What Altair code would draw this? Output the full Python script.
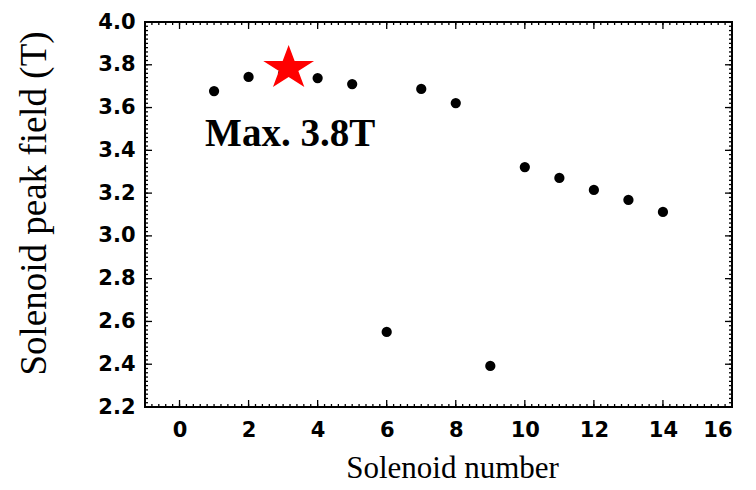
import altair as alt
import pandas as pd

# ---- data ----
solenoid = [1, 2, 3, 4, 5, 6, 7, 8, 9, 10, 11, 12, 13, 14]
peak_field = [3.677, 3.743, 3.760, 3.738, 3.710, 2.551, 3.687, 3.621,
              2.392, 3.322, 3.271, 3.215, 3.168, 3.112]

star_x = [3.16]
star_y = [3.784]

label_text = ["Max. 3.8T"]
label_x = [0.74]
label_y = [3.42]

x_tick_labels = [0, 2, 4, 6, 8, 10, 12, 14, 16]
y_tick_labels = [2.2, 2.4, 2.6, 2.8, 3.0, 3.2, 3.4, 3.6, 3.8, 4.0]

# minor tick positions (decoration)
x_minor = [round(-1 + 0.2 * i, 2) for i in range(86)]
y_minor = [round(2.2 + 0.02 * i, 3) for i in range(91)]

W, H = 587, 385

xs = alt.Scale(domain=[-1, 16], nice=False, zero=False)
ys = alt.Scale(domain=[2.2, 4.0], nice=False, zero=False)

ax_x = alt.Axis(
    values=x_tick_labels, format="d", title="Solenoid number",
    titleX=307, titleY=70, titleAlign="center", titleBaseline="alphabetic",
    titleFontSize=31, labelPadding=12)
ax_y = alt.Axis(
    values=y_tick_labels, format=".1f", title="Solenoid peak field (T)",
    titleX=-100, titleY=181, titleAngle=-90, titleAlign="center",
    titleBaseline="alphabetic", titleFontSize=37, labelPadding=10)

pts = pd.DataFrame({"n": solenoid, "f": peak_field})

points = alt.Chart(pts).mark_circle(size=105, color="black", opacity=1).encode(
    x=alt.X("n:Q", scale=xs, axis=ax_x),
    y=alt.Y("f:Q", scale=ys, axis=ax_y),
)

star_path = ("M0,-0.87 L0.2245,-0.269 L0.951,-0.269 L0.363,0.103 "
             "L0.588,0.704 L0,0.332 L-0.588,0.704 L-0.363,0.103 "
             "L-0.951,-0.269 L-0.2245,-0.269 Z")

star = alt.Chart(pd.DataFrame({"n": star_x, "f": star_y})).mark_point(
    shape=star_path, filled=True, fill="#ff0000", color="#ff0000",
    size=2850, opacity=1, strokeWidth=0
).encode(
    x=alt.X("n:Q", scale=xs, axis=ax_x),
    y=alt.Y("f:Q", scale=ys, axis=ax_y),
)

label = alt.Chart(pd.DataFrame({"n": label_x, "f": label_y, "t": label_text})).mark_text(
    font="Liberation Serif", fontWeight="bold", fontSize=39, align="left",
    baseline="alphabetic", color="black"
).encode(
    x=alt.X("n:Q", scale=xs, axis=ax_x),
    y=alt.Y("f:Q", scale=ys, axis=ax_y),
    text="t:N",
)

def xticks(vals, y0, y1):
    return alt.Chart(pd.DataFrame({"n": vals})).mark_rule(
        color="black", strokeWidth=1.3).encode(
        x=alt.X("n:Q", scale=xs, axis=ax_x),
        y=alt.value(y0), y2=alt.value(y1))

def yticks(vals, x0, x1):
    return alt.Chart(pd.DataFrame({"f": vals})).mark_rule(
        color="black", strokeWidth=1.3).encode(
        y=alt.Y("f:Q", scale=ys, axis=ax_y),
        x=alt.value(x0), x2=alt.value(x1))

layers = [
    xticks(x_minor, H, H - 3), xticks(x_tick_labels, H, H - 7),
    xticks(x_minor, 0, 3), xticks(x_tick_labels, 0, 7),
    yticks(y_minor, 0, 3), yticks(y_tick_labels, 0, 7),
    yticks(y_minor, W, W - 3), yticks(y_tick_labels, W, W - 7),
]

chart = alt.layer(points, *layers, star, label).properties(
    width=W, height=H,
    padding={"left": 145, "top": 22, "right": 24, "bottom": 83},
    autosize="none", background="white",
).configure_axis(
    grid=False, domain=False, ticks=False,
    labelFont="DejaVu Sans", labelFontWeight="bold", labelFontSize=21,
    labelColor="black", titleFont="Liberation Serif", titleFontWeight="normal",
    titleColor="black",
).configure_view(stroke="black", strokeWidth=2)

chart.save("out.html", embed_options={"renderer": "svg", "actions": False})
